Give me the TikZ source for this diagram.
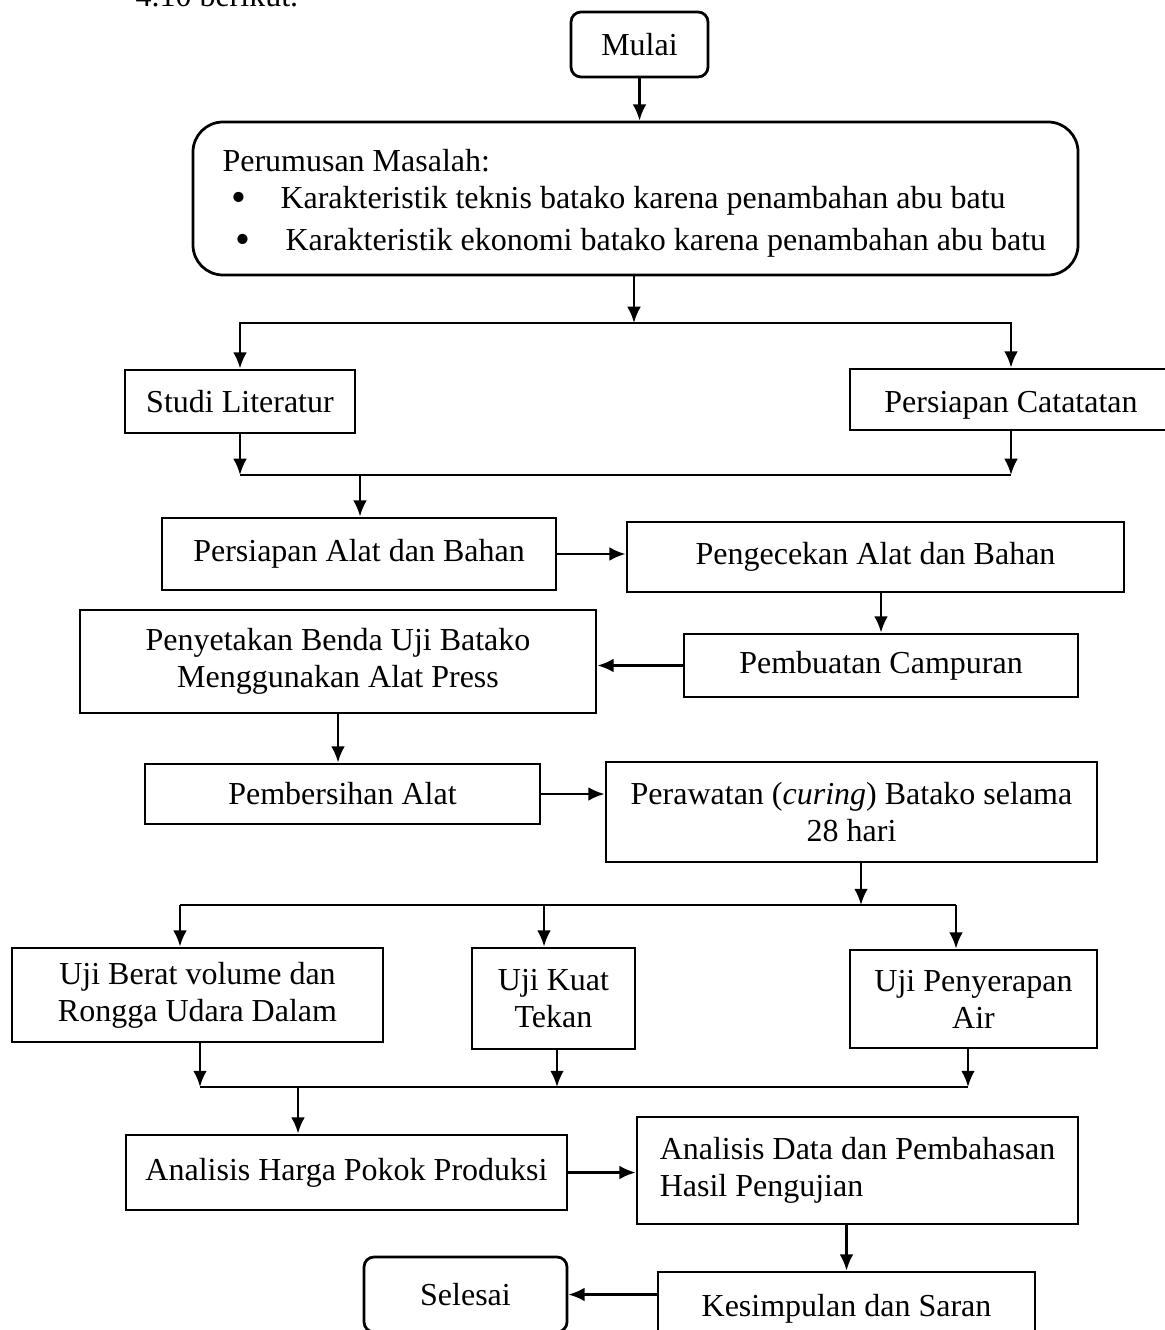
\documentclass[tikz,border=0pt]{standalone}
\usepackage{fontspec}
\setmainfont{Liberation Serif}
\usetikzlibrary{arrows.meta}

\begin{document}
\begin{tikzpicture}[x=0.4pt, y=-0.4pt, font=\fontsize{12.8}{14.8}\selectfont,
  kotak/.style={draw, line width=1.1pt, inner sep=2pt, align=center},
  bulat/.style={kotak, rounded corners=4pt},
  teks/.style={anchor=base west, inner sep=0pt},
  titik/.style={teks, font=\fontsize{17}{17}\selectfont},
  panah/.style={line width=1pt, -{Latex[length=6.5pt,width=5.5pt]}},
  garis/.style={line width=1pt}]
  \useasboundingbox (0,0) rectangle (1164,1330);
  % kalimat pengantar (terpotong di tepi atas)
  \node[teks] (intro) at (135,7) {4.10 berikut.};
  % awal dan rumusan masalah
  \node[bulat, minimum width=54.8pt, minimum height=26pt] (mulai) at (639.5,44.5) {Mulai};
  \node[bulat, rounded corners=12pt, minimum width=354pt, minimum height=61.2pt] (rumusan) at (635.5,198.5) {};
  \node[teks] (judul) at (222,172) {Perumusan Masalah:};
  \node[titik] (titik1) at (231,212) {•};
  \node[teks] (poin1) at (280,209) {Karakteristik teknis batako karena penambahan abu batu};
  \node[titik] (titik2) at (235,254) {•};
  \node[teks] (poin2) at (285,251) {Karakteristik ekonomi batako karena penambahan abu batu};
  % tahap persiapan
  \node[kotak, minimum width=92pt, minimum height=25.2pt] (studi) at (240,401.5) {Studi Literatur};
  \node[kotak, text height=12.8pt, minimum width=128.8pt, minimum height=24.4pt] (catatan) at (1011,399.5) {Persiapan Catatatan};
  \node[kotak, minimum width=157.6pt, minimum height=28.8pt] (alat) at (359,554) {Persiapan Alat dan Bahan};
  \node[kotak, minimum width=198.8pt, minimum height=28pt] (cek) at (875.5,557) {Pengecekan Alat dan Bahan};
  \node[kotak, minimum width=157.6pt, minimum height=25.2pt] (campur) at (881,665.5) {Pembuatan Campuran};
  \node[kotak, minimum width=206.4pt, minimum height=41.2pt] (cetak) at (338,661.5) {Penyetakan Benda Uji Batako\\Menggunakan Alat Press};
  \node[kotak, minimum width=158pt, minimum height=24pt] (bersih) at (342.5,794) {Pembersihan Alat};
  \node[kotak, minimum width=196.4pt, minimum height=40pt] (rawat) at (851.5,812) {Perawatan (\textit{curing}) Batako selama\\28 hari};
  % pengujian
  \node[kotak, minimum width=148.4pt, minimum height=37.6pt] (berat) at (197.5,995) {Uji Berat volume dan\\Rongga Udara Dalam};
  \node[kotak, minimum width=65.2pt, minimum height=40.4pt] (kuat) at (553.5,998.5) {Uji Kuat\\Tekan};
  \node[kotak, minimum width=98.8pt, minimum height=39.2pt] (serap) at (973.5,999) {Uji Penyerapan\\Air};
  % analisis dan akhir
  \node[kotak, minimum width=176.4pt, minimum height=30pt] (harga) at (346.5,1172.5) {Analisis Harga Pokok Produksi};
  \node[kotak, align=left, minimum width=176.4pt, minimum height=42.8pt] (analisis) at (857.5,1170.5) {Analisis Data dan Pembahasan\\Hasil Pengujian};
  \node[kotak, minimum width=150.8pt, minimum height=29.2pt] (simpul) at (846.5,1308.5) {Kesimpulan dan Saran};
  \node[bulat, minimum width=81.2pt, minimum height=30pt] (selesai) at (465.5,1294.5) {Selesai};

  % titik cabang
  \coordinate (j1) at (634,323);
  \coordinate (m1) at (360,475);
  \coordinate (j2) at (861,905);
  \coordinate (j2a) at (180,905);
  \coordinate (j2b) at (544,905);
  \coordinate (j2c) at (956,905);
  \coordinate (m2) at (298,1087);
  \coordinate (m2a) at (200,1087);
  \coordinate (m2b) at (557,1087);
  \coordinate (m2c) at (968,1087);

  % alur
  \draw[panah] (mulai.south) -- (mulai.south |- rumusan.north);
  \draw[panah] (rumusan.south -| j1) -- (j1);
  \draw[panah] (j1) -| (studi.north);
  \draw[panah] (j1) -| (catatan.north);
  \draw[panah] (studi) -- (studi |- m1);
  \draw[panah] (catatan) -- (catatan |- m1);
  \draw[garis] (studi |- m1) -- (catatan |- m1);
  \draw[panah] (m1) -- (m1 |- alat.north);
  \draw[panah] (alat.east) -- (alat.east -| cek.west);
  \draw[panah] (campur.north |- cek.south) -- (campur.north);
  \draw[panah] (campur.west) -- (campur.west -| cetak.east);
  \draw[panah] (cetak.south) -- (cetak.south |- bersih.north);
  \draw[panah] (bersih.east) -- (bersih.east -| rawat.west);
  \draw[panah] (rawat.south -| j2) -- (j2);
  \draw[garis] (j2a) -- (j2c);
  \draw[panah] (j2a) -- (j2a |- berat.north);
  \draw[panah] (j2b) -- (j2b |- kuat.north);
  \draw[panah] (j2c) -- (j2c |- serap.north);
  \draw[panah] (berat.south -| m2a) -- (m2a);
  \draw[panah] (kuat.south -| m2b) -- (m2b);
  \draw[panah] (serap.south -| m2c) -- (m2c);
  \draw[garis] (m2a) -- (m2c);
  \draw[panah] (m2) -- (m2 |- harga.north);
  \draw[panah] (harga.east) -- (harga.east -| analisis.west);
  \draw[panah] (simpul.north |- analisis.south) -- (simpul.north);
  \draw[panah] (simpul.west |- selesai) -- (selesai);
\end{tikzpicture}
\end{document}
